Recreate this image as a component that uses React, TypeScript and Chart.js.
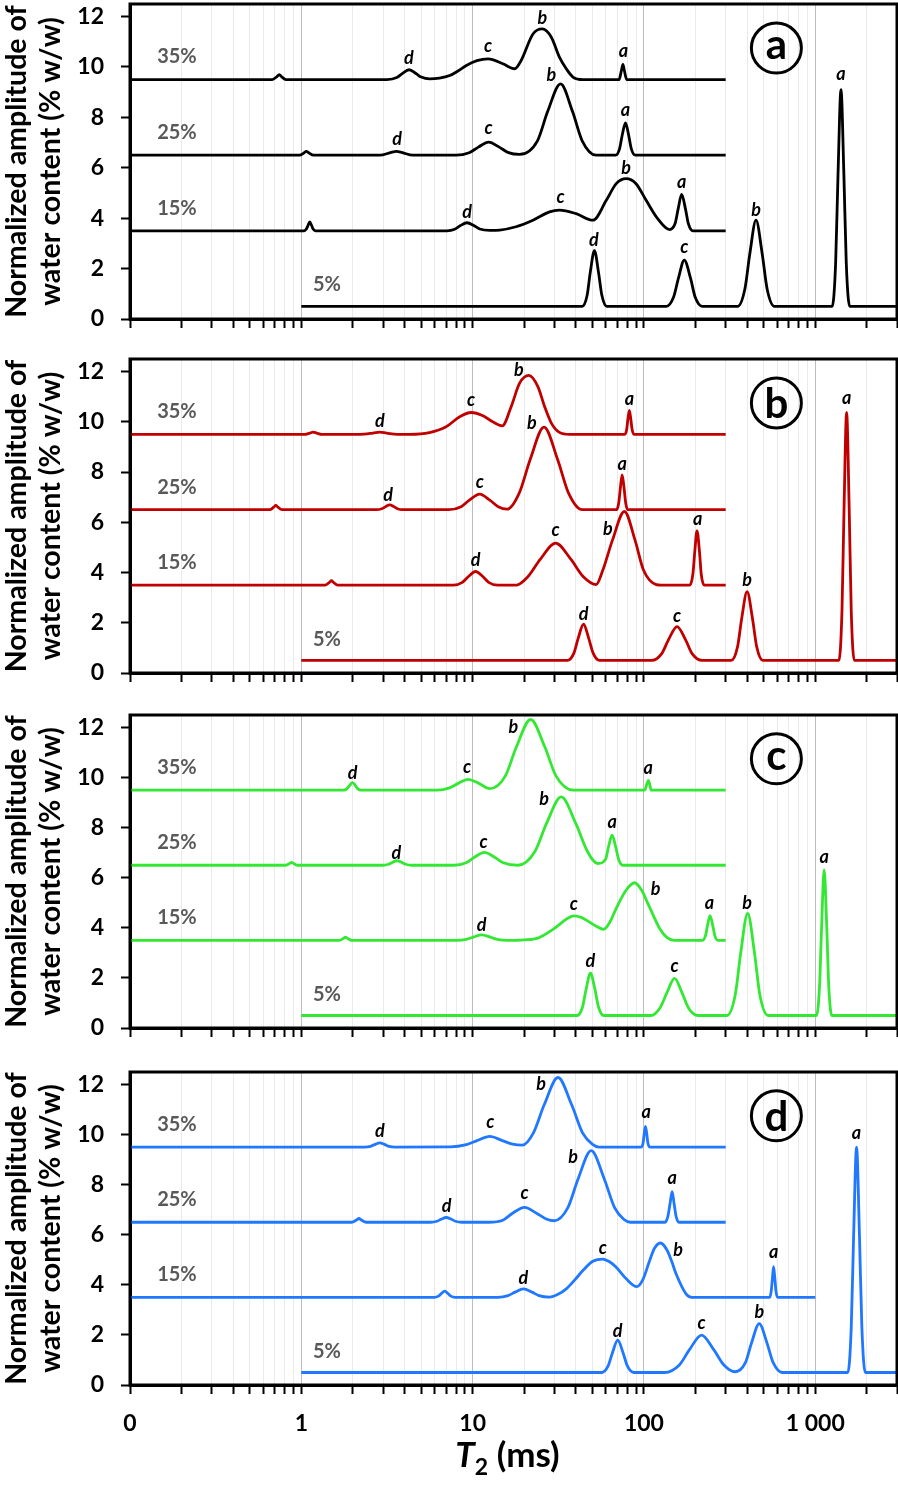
import React, { useEffect, useRef } from 'react';
import { Chart, registerables } from 'chart.js';

Chart.register(...registerables);

type Pt = [number, number];
type PeakLabel = [string, number, number];

const FONT = 'Lato, "Open Sans", "DejaVu Sans", sans-serif';

// ---------- Panel (a) : black ----------
const A35: Pt[] = [
  [0.1, 9.5], [0.676, 9.5], [0.721, 9.62], [0.743, 9.7], [0.766, 9.62], [0.813, 9.5],
  [3.16, 9.5], [3.61, 9.58], [3.88, 9.74], [4.26, 9.89], [4.67, 9.74], [5.01, 9.6], [5.62, 9.53],
  [6.4, 9.56], [7.35, 9.66], [8.2, 9.84], [9.19, 10.06], [10.6, 10.25], [12.3, 10.32], [15.0, 10.13], [17.6, 9.93],
  [19.2, 10.26], [22.5, 11.31], [25.5, 11.51], [28.8, 11.18], [32.1, 10.39], [35.2, 9.93], [38.5, 9.6], [44, 9.5],
  [71.6, 9.5], [73.8, 9.85], [75.4, 10.1], [76.9, 9.85], [79.3, 9.5], [300, 9.5],
];
const A25: Pt[] = [
  [0.1, 6.5], [0.977, 6.5], [1.035, 6.59], [1.07, 6.65], [1.11, 6.59], [1.175, 6.5],
  [2.88, 6.5], [3.31, 6.6], [3.59, 6.65], [3.89, 6.6], [4.47, 6.5],
  [8.0, 6.5], [9.55, 6.6], [10.8, 6.82], [12.4, 7.02], [14.3, 6.82], [16.2, 6.6], [18.8, 6.53],
  [23.9, 7.07], [27.4, 8.23], [32.6, 9.33], [38.3, 8.23], [43.6, 7.07], [52.5, 6.5],
  [68.4, 6.5], [72.1, 6.76], [74.6, 7.28], [78.0, 7.78], [81.5, 7.28], [84.3, 6.76], [89.1, 6.5], [300, 6.5],
];
const A15: Pt[] = [
  [0.1, 3.5], [1.04, 3.5], [1.07, 3.57], [1.094, 3.71], [1.12, 3.85], [1.148, 3.71], [1.172, 3.57], [1.21, 3.5],
  [7.08, 3.5], [7.85, 3.56], [8.45, 3.7], [9.27, 3.82], [10.2, 3.7], [11.0, 3.57], [12.6, 3.52],
  [14.4, 3.53], [17.9, 3.66], [22.5, 3.92], [28.1, 4.25], [32.1, 4.32], [40.2, 4.18], [50.4, 3.92],
  [60.3, 4.71], [68.9, 5.37], [78.7, 5.57], [89.9, 5.37], [103, 4.71], [120, 3.99], [141, 3.55],
  [152, 3.79], [158.5, 4.38], [166, 4.94], [174.6, 4.38], [181.6, 3.79], [193, 3.5], [300, 3.5],
];
const A5: Pt[] = [
  [1, 0.5], [43.6, 0.5], [46.6, 0.94], [48.6, 1.85], [51.4, 2.71], [54.3, 1.85], [56.8, 0.94], [60.7, 0.5],
  [135, 0.5], [149, 0.87], [159, 1.62], [172, 2.34], [187, 1.62], [199, 0.87], [219, 0.5],
  [352, 0.5], [388, 1.18], [415, 2.59], [451, 3.92], [490, 2.59], [524, 1.18], [578, 0.5],
  [1256, 0.5], [1315, 2.22], [1358, 5.75], [1413, 9.1], [1469, 5.75], [1517, 2.22], [1589, 0.5], [3000, 0.5],
];
const A_PEAKS: PeakLabel[] = [
  ['d', 4.25, 10.39], ['c', 12.3, 10.79], ['b', 25.5, 11.97], ['a', 76, 10.59],
  ['d', 3.62, 7.18], ['c', 12.4, 7.55], ['b', 28.8, 9.73], ['a', 78, 8.25],
  ['d', 9.27, 4.28], ['c', 32.6, 4.82], ['b', 78.7, 6.03], ['a', 166, 5.4],
  ['d', 51, 3.19], ['c', 172, 2.83], ['b', 451, 4.38], ['a', 1413, 9.7],
];

// ---------- Panel (b) : red ----------
const B35: Pt[] = [
  [0.1, 9.5], [1.047, 9.5], [1.12, 9.55], [1.17, 9.59], [1.23, 9.55], [1.318, 9.5],
  [2.19, 9.5], [2.62, 9.55], [2.87, 9.59], [3.15, 9.55], [3.63, 9.5],
  [4.3, 9.5], [5.6, 9.57], [7.0, 9.8], [8.4, 10.2], [9.8, 10.37], [11.5, 10.24], [13.1, 10.0], [14.9, 9.84],
  [16.8, 10.61], [18.8, 11.54], [21.3, 11.85], [24.0, 11.41], [26.3, 10.61], [28.8, 9.95], [32.1, 9.58], [36.8, 9.5],
  [77.3, 9.5], [79.3, 9.69], [80.5, 10.08], [82.2, 10.45], [83.9, 10.08], [85.3, 9.69], [87.5, 9.5], [300, 9.5],
];
const B25: Pt[] = [
  [0.1, 6.5], [0.653, 6.5], [0.69, 6.6], [0.71, 6.67], [0.73, 6.6], [0.771, 6.5],
  [2.75, 6.5], [2.95, 6.54], [3.1, 6.62], [3.28, 6.69], [3.48, 6.62], [3.64, 6.54], [3.89, 6.5],
  [7.24, 6.5], [8.57, 6.62], [9.57, 6.88], [11.0, 7.12], [12.6, 6.88], [14.1, 6.62], [15.9, 6.52],
  [18.7, 7.16], [21.7, 8.51], [26.1, 9.79], [31.3, 8.51], [36.3, 7.16], [43.6, 6.5],
  [69.2, 6.5], [71.3, 6.78], [72.8, 7.35], [74.6, 7.89], [76.6, 7.35], [78.2, 6.78], [80.5, 6.5], [300, 6.5],
];
const B15: Pt[] = [
  [0.1, 3.5], [1.38, 3.5], [1.46, 3.61], [1.5, 3.68], [1.54, 3.61], [1.63, 3.5],
  [7.73, 3.5], [8.71, 3.61], [9.42, 3.83], [10.4, 4.04], [11.5, 3.83], [12.4, 3.61], [14.0, 3.5],
  [18.0, 3.5], [21.0, 3.83], [24.8, 4.52], [30.5, 5.17], [37.5, 4.52], [44.3, 3.83], [52.6, 3.52],
  [57.5, 4.09], [65.5, 5.29], [76.9, 6.43], [88.7, 5.29], [99.5, 4.09], [118, 3.52], [126, 3.5],
  [185, 3.5], [193, 3.93], [198, 4.82], [204, 5.66], [211, 4.82], [216, 3.93], [225, 3.5], [300, 3.5],
];
const B5: Pt[] = [
  [1, 0.5], [35.8, 0.5], [39.0, 0.79], [41.3, 1.38], [44.4, 1.94], [47.6, 1.38], [50.5, 0.79], [55, 0.5],
  [111, 0.5], [127, 0.77], [139, 1.32], [156, 1.85], [175, 1.32], [191, 0.77], [219, 0.5],
  [323, 0.5], [352, 1.05], [372, 2.17], [400, 3.24], [430, 2.17], [455, 1.05], [495, 0.5],
  [1374, 0.5], [1432, 2.47], [1472, 6.52], [1524, 10.37], [1578, 6.52], [1622, 2.47], [1690, 0.5], [3000, 0.5],
];
const B_PEAKS: PeakLabel[] = [
  ['d', 2.87, 10.08], ['c', 9.8, 10.84], ['b', 18.6, 12.1], ['a', 82.2, 10.88],
  ['d', 3.21, 7.13], ['c', 11.0, 7.58], ['b', 22.2, 10.01], ['a', 74.6, 8.29],
  ['d', 10.4, 4.53], ['c', 30.5, 5.67], ['b', 61.5, 5.76], ['a', 206, 6.1],
  ['d', 44.4, 2.4], ['c', 156, 2.24], ['b', 400, 3.73], ['a', 1524, 10.9],
];

// ---------- Panel (c) : green ----------
const C35: Pt[] = [
  [0.1, 9.5], [1.77, 9.5], [1.85, 9.56], [1.91, 9.68], [1.99, 9.8], [2.07, 9.68], [2.13, 9.56], [2.23, 9.5],
  [6.17, 9.5], [7.33, 9.59], [8.18, 9.76], [9.4, 9.93], [10.8, 9.78], [12.6, 9.56],
  [15.5, 10.06], [18.0, 11.22], [21.8, 12.32], [26.4, 11.22], [30.7, 10.06], [38.6, 9.5],
  [101, 9.5], [104, 9.74], [106, 9.89], [108, 9.74], [110, 9.5], [300, 9.5],
];
const C25: Pt[] = [
  [0.1, 6.5], [0.807, 6.5], [0.853, 6.57], [0.877, 6.61], [0.902, 6.57], [0.953, 6.5],
  [2.99, 6.5], [3.23, 6.54], [3.4, 6.61], [3.62, 6.68], [3.86, 6.61], [4.06, 6.54], [4.4, 6.5],
  [7.76, 6.5], [9.16, 6.6], [10.2, 6.81], [11.7, 7.01], [13.5, 6.81], [15.1, 6.6], [18.4, 6.5],
  [23.1, 7.05], [27.0, 8.17], [32.9, 9.23], [40.0, 8.17], [46.8, 7.05], [53.7, 6.57],
  [59.7, 6.74], [62.1, 7.23], [65.2, 7.7], [68.4, 7.23], [71.1, 6.74], [75.3, 6.5], [300, 6.5],
];
const C15: Pt[] = [
  [0.1, 3.5], [1.67, 3.5], [1.76, 3.58], [1.81, 3.63], [1.86, 3.58], [1.97, 3.5],
  [8.02, 3.5], [9.2, 3.54], [10.1, 3.63], [11.3, 3.72], [12.7, 3.63], [13.9, 3.54], [16.0, 3.5],
  [20.0, 3.52], [24, 3.59], [30, 3.98], [35.9, 4.38], [39.0, 4.48], [43.0, 4.42], [47.6, 4.25], [53, 4.05], [58.1, 3.94],
  [63.5, 4.25], [68.9, 4.78], [78.8, 5.51], [88.1, 5.8], [97, 5.5], [105, 5.0], [113, 4.52], [124, 3.95], [136, 3.62], [150, 3.5],
  [219, 3.5], [229, 3.7], [235, 4.1], [243, 4.49], [252, 4.1], [259, 3.7], [270, 3.5], [300, 3.5],
];
const C5: Pt[] = [
  [1, 0.5], [40.7, 0.5], [43.8, 0.84], [45.9, 1.53], [48.7, 2.19], [51.8, 1.53], [54.3, 0.84], [58.3, 0.5],
  [110, 0.5], [124, 0.8], [136, 1.4], [151, 1.98], [167, 1.4], [182, 0.8], [207, 0.5],
  [305, 0.5], [341, 1.32], [367, 2.99], [403, 4.58], [442, 2.99], [475, 1.32], [531, 0.5],
  [1016, 0.5], [1059, 1.66], [1089, 4.04], [1127, 6.31], [1167, 4.04], [1199, 1.66], [1250, 0.5], [3000, 0.5],
];
const C_PEAKS: PeakLabel[] = [
  ['d', 1.99, 10.23], ['c', 9.27, 10.39], ['b', 17.3, 12.06], ['a', 106, 10.36],
  ['d', 3.59, 7.04], ['c', 11.6, 7.4], ['b', 26.1, 9.19], ['a', 65.2, 8.19],
  ['d', 11.3, 4.14], ['c', 39, 4.91], ['b', 117, 5.58], ['a', 241, 4.94],
  ['d', 48.7, 2.72], ['c', 151, 2.42], ['b', 400, 5.05], ['a', 1127, 6.8],
];

// ---------- Panel (d) : blue ----------
const D35: Pt[] = [
  [0.1, 9.5], [2.33, 9.5], [2.54, 9.53], [2.68, 9.6], [2.87, 9.67], [3.08, 9.6], [3.25, 9.53], [3.53, 9.5],
  [7.41, 9.51], [9.2, 9.6], [10.6, 9.76], [12.6, 9.93], [14.9, 9.76], [17.1, 9.62], [19.5, 9.58],
  [22.6, 10.06], [26.2, 11.2], [31.5, 12.28], [37.8, 11.2], [43.9, 10.06], [49.9, 9.62], [54.7, 9.5],
  [96.6, 9.5], [98.9, 9.67], [100.2, 10.0], [102, 10.33], [104, 10.0], [105.4, 9.67], [107.9, 9.5], [300, 9.5],
];
const D25: Pt[] = [
  [0.1, 6.5], [1.97, 6.5], [2.1, 6.59], [2.17, 6.65], [2.24, 6.59], [2.39, 6.5],
  [5.7, 6.5], [6.19, 6.54], [6.55, 6.62], [7.0, 6.69], [7.52, 6.62], [7.94, 6.54], [8.63, 6.5],
  [12.4, 6.5], [15.0, 6.58], [17.1, 6.86], [20.1, 7.09], [23.6, 6.86], [26.9, 6.63], [30.0, 6.56],
  [35.9, 7.07], [41.3, 8.24], [49.2, 9.36], [58.6, 8.24], [67.5, 7.07], [76.2, 6.62], [83.2, 6.5],
  [133, 6.5], [138, 6.74], [142, 7.24], [146, 7.72], [150, 7.24], [154, 6.74], [160, 6.5], [300, 6.5],
];
const D15: Pt[] = [
  [0.1, 3.5], [5.98, 3.5], [6.32, 3.55], [6.56, 3.65], [6.87, 3.75], [7.19, 3.65], [7.46, 3.55], [7.89, 3.5],
  [14.0, 3.5], [16.1, 3.57], [17.7, 3.71], [19.8, 3.84], [22.2, 3.71], [24.4, 3.57], [28.1, 3.51],
  [31.5, 3.62], [35.2, 3.84], [39.5, 4.2], [44, 4.57], [50.3, 4.94], [57.5, 5.03], [63, 4.92], [68.9, 4.7], [78.8, 4.24], [90.8, 3.93],
  [98.4, 4.2], [108, 4.97], [115, 5.45], [125, 5.67], [136, 5.4], [145, 4.95], [154, 4.44], [176, 3.64], [190, 3.5],
  [542, 3.5], [553, 3.74], [562, 4.25], [571, 4.73], [581, 4.25], [590, 3.74], [603, 3.5], [1000, 3.5],
];
const D5: Pt[] = [
  [1, 0.5], [56.8, 0.5], [61.8, 0.76], [65.5, 1.29], [70.3, 1.79], [75.5, 1.29], [80, 0.76], [87.1, 0.5],
  [132, 0.5], [161, 0.8], [184, 1.4], [217, 1.99], [256, 1.4], [293, 0.8], [340, 0.53],
  [391, 0.89], [425, 1.69], [471, 2.45], [522, 1.69], [568, 0.89], [643, 0.5],
  [1549, 0.5], [1622, 2.3], [1675, 5.99], [1742, 9.5], [1811, 5.99], [1871, 2.3], [1959, 0.5], [3000, 0.5],
];
const D_PEAKS: PeakLabel[] = [
  ['d', 2.87, 10.2], ['c', 12.7, 10.46], ['b', 25.1, 12.05], ['a', 103, 10.86],
  ['d', 7.05, 7.19], ['c', 20.1, 7.62], ['b', 38.6, 9.14], ['a', 146, 8.21],
  ['d', 19.8, 4.33], ['c', 57.5, 5.43], ['b', 158, 5.43], ['a', 571, 5.26],
  ['d', 70.3, 2.19], ['c', 217, 2.45], ['b', 471, 2.94], ['a', 1742, 10.03],
];

// ---------- shared labels / ticks ----------
const SERIES_NAMES = ['35%', '25%', '15%', '5%'];
const SERIES_LABEL_T2 = [0.144, 0.144, 0.144, 1.17];
const SERIES_LABEL_AMP = [10.4, 7.4, 4.4, 1.35];
const X_TICK_VALUES = [0.1, 1, 10, 100, 1000];
const X_TICK_TEXT = ['0', '1', '10', '100', '1 000'];
const X_MINOR_MULT = [2, 3, 4, 5, 6, 7, 8, 9];
const X_MIN = 0.1;
const X_MAX = 3000;
const Y_TICKS = [0, 2, 4, 6, 8, 10, 12];
const Y_MIN = 0;
const Y_MAX = 12.5;
const Y_TITLE = ['Normalized amplitude of', 'water content (% w/w)'];
const X_TITLE_PARTS = ['T', '2', ' (ms)'];
const PANEL_TAGS = ['a', 'b', 'c', 'd'];
const TAG_T2 = 593;
const TAG_AMP = 10.75;

const X_GRID_TICKS: number[] = [];
X_TICK_VALUES.forEach((d) => {
  X_GRID_TICKS.push(d);
  X_MINOR_MULT.forEach((m) => {
    const v = d * m;
    if (v <= X_MAX) X_GRID_TICKS.push(v);
  });
});
X_GRID_TICKS.sort((a, b) => a - b);

const PANELS = [
  { series: [A35, A25, A15, A5], peaks: A_PEAKS, color: '#000000', top: 0, height: 340, padTop: 4, xHeight: 21, bottom: false },
  { series: [B35, B25, B15, B5], peaks: B_PEAKS, color: '#C00000', top: 340, height: 355, padTop: 19, xHeight: 22, bottom: false },
  { series: [C35, C25, C15, C5], peaks: C_PEAKS, color: '#33E833', top: 695, height: 355, padTop: 20, xHeight: 22, bottom: false },
  { series: [D35, D25, D15, D5], peaks: D_PEAKS, color: '#1F78FF', top: 1050, height: 445, padTop: 22, xHeight: 110, bottom: true },
];

function makeOverlay(idx: number, peaks: PeakLabel[], bottom: boolean) {
  return {
    id: 'overlay' + idx,
    afterDatasetsDraw(chart: any) {
      const { ctx, chartArea } = chart;
      const xs = chart.scales.x;
      const ys = chart.scales.y;
      ctx.save();
      // series labels
      ctx.fillStyle = '#595959';
      ctx.font = `bold 20px ${FONT}`;
      ctx.textAlign = 'left';
      ctx.textBaseline = 'middle';
      SERIES_NAMES.forEach((n, i) => {
        ctx.fillText(n, xs.getPixelForValue(SERIES_LABEL_T2[i]), ys.getPixelForValue(SERIES_LABEL_AMP[i]));
      });
      // peak labels
      ctx.fillStyle = '#000';
      ctx.font = `italic bold 18px ${FONT}`;
      ctx.textAlign = 'center';
      ctx.textBaseline = 'alphabetic';
      peaks.forEach(([t, x, y]) => {
        const m = ctx.measureText(t);
        const py = ys.getPixelForValue(y) + (m.actualBoundingBoxAscent - m.actualBoundingBoxDescent) / 2;
        ctx.fillText(t, xs.getPixelForValue(x), py);
      });
      // circled panel tag
      const tag = PANEL_TAGS[idx];
      const cx = xs.getPixelForValue(TAG_T2);
      const cy = ys.getPixelForValue(TAG_AMP);
      ctx.beginPath();
      ctx.arc(cx, cy, 25, 0, Math.PI * 2);
      ctx.lineWidth = 3;
      ctx.strokeStyle = '#000';
      ctx.stroke();
      ctx.font = `bold 42px ${FONT}`;
      const tm = ctx.measureText(tag);
      ctx.fillText(tag, cx, cy + (tm.actualBoundingBoxAscent - tm.actualBoundingBoxDescent) / 2);
      // frame
      ctx.lineWidth = 3;
      ctx.strokeRect(chartArea.left, chartArea.top, chartArea.right - chartArea.left, chartArea.bottom - chartArea.top);
      // x title
      if (bottom) {
        const base = chartArea.bottom + 82;
        const center = (chartArea.left + chartArea.right) / 2 - 6;
        const f1 = `italic bold 35px ${FONT}`;
        const f2 = `bold 23px ${FONT}`;
        const f3 = `bold 35px ${FONT}`;
        ctx.font = f1; const w1 = ctx.measureText(X_TITLE_PARTS[0]).width;
        ctx.font = f2; const w2 = ctx.measureText(X_TITLE_PARTS[1]).width;
        ctx.font = f3; const w3 = ctx.measureText(X_TITLE_PARTS[2]).width;
        let x0 = center - (w1 + w2 + w3) / 2;
        ctx.textAlign = 'left';
        ctx.fillStyle = '#000';
        ctx.font = f1; ctx.fillText(X_TITLE_PARTS[0], x0, base); x0 += w1;
        ctx.font = f2; ctx.fillText(X_TITLE_PARTS[1], x0, base + 8); x0 += w2;
        ctx.font = f3; ctx.fillText(X_TITLE_PARTS[2], x0, base);
      }
      ctx.restore();
    },
  };
}

function Panel({ idx }: { idx: number }) {
  const ref = useRef<HTMLCanvasElement>(null);
  const cfg = PANELS[idx];
  useEffect(() => {
    if (!ref.current) return;
    Chart.defaults.font.family = FONT;
    const chart = new Chart(ref.current, {
      type: 'line',
      data: {
        datasets: cfg.series.map((s, i) => ({
          label: SERIES_NAMES[i],
          data: s.map(([x, y]) => ({ x, y })),
          borderColor: cfg.color,
          backgroundColor: cfg.color,
          borderWidth: 2.8,
          pointRadius: 0,
          pointHoverRadius: 0,
          fill: false,
          cubicInterpolationMode: 'monotone',
        })),
      },
      options: {
        animation: false,
        responsive: false,
        devicePixelRatio: 1,
        events: [],
        layout: { padding: { top: cfg.padTop, right: 1, left: 0, bottom: 0 } },
        plugins: { legend: { display: false }, tooltip: { enabled: false }, title: { display: false } },
        scales: {
          x: {
            type: 'logarithmic',
            min: X_MIN,
            max: X_MAX,
            afterBuildTicks: (s: any) => { s.ticks = X_GRID_TICKS.map((v) => ({ value: v })); },
            afterFit: (s: any) => {
              s.height = cfg.xHeight;
              s.paddingLeft = 0;
              s.paddingRight = 0;
              s.paddingTop = 0;
              s.paddingBottom = 0;
            },
            ticks: {
              display: cfg.bottom,
              autoSkip: false,
              maxRotation: 0,
              minRotation: 0,
              padding: 16,
              color: '#000',
              font: { family: FONT, size: 23, weight: 'bold' },
              callback: (v: any) => {
                const i = X_TICK_VALUES.indexOf(Number(v));
                return i >= 0 ? X_TICK_TEXT[i] : '';
              },
            },
            grid: {
              color: (c: any) => (c.tick && X_TICK_VALUES.includes(c.tick.value) ? '#BDBDBD' : '#EAEAEA'),
              lineWidth: 1,
              drawTicks: true,
              tickLength: 9,
              tickColor: '#000',
              tickWidth: 2,
            },
            border: { color: '#000', width: 3 },
          },
          y: {
            min: Y_MIN,
            max: Y_MAX,
            afterBuildTicks: (s: any) => { s.ticks = Y_TICKS.map((v) => ({ value: v })); },
            afterFit: (s: any) => {
              s.width = 130;
              s.paddingTop = 0;
              s.paddingBottom = 0;
              s.paddingLeft = 0;
              s.paddingRight = 0;
            },
            ticks: {
              padding: 17,
              color: '#000',
              font: { family: FONT, size: 23, weight: 'bold' },
            },
            grid: { drawOnChartArea: false, drawTicks: true, tickLength: 9, tickColor: '#000', tickWidth: 2 },
            border: { color: '#000', width: 3 },
            title: {
              display: true,
              text: Y_TITLE,
              color: '#000',
              padding: 0,
              font: { family: FONT, size: 28.5, weight: 'bold', lineHeight: 1.2 },
            },
          },
        },
      } as any,
      plugins: [makeOverlay(idx, cfg.peaks, cfg.bottom)],
    });
    return () => chart.destroy();
  }, []);
  return (
    <canvas
      ref={ref}
      width={898}
      height={cfg.height}
      style={{ position: 'absolute', left: 0, top: cfg.top, width: 898, height: cfg.height, display: 'block' }}
    />
  );
}

export default function App() {
  return (
    <div style={{ position: 'absolute', left: 0, top: 0, width: 898, height: 1495, background: '#ffffff', overflow: 'hidden' }}>
      {PANELS.map((_, i) => (
        <Panel key={i} idx={i} />
      ))}
    </div>
  );
}
